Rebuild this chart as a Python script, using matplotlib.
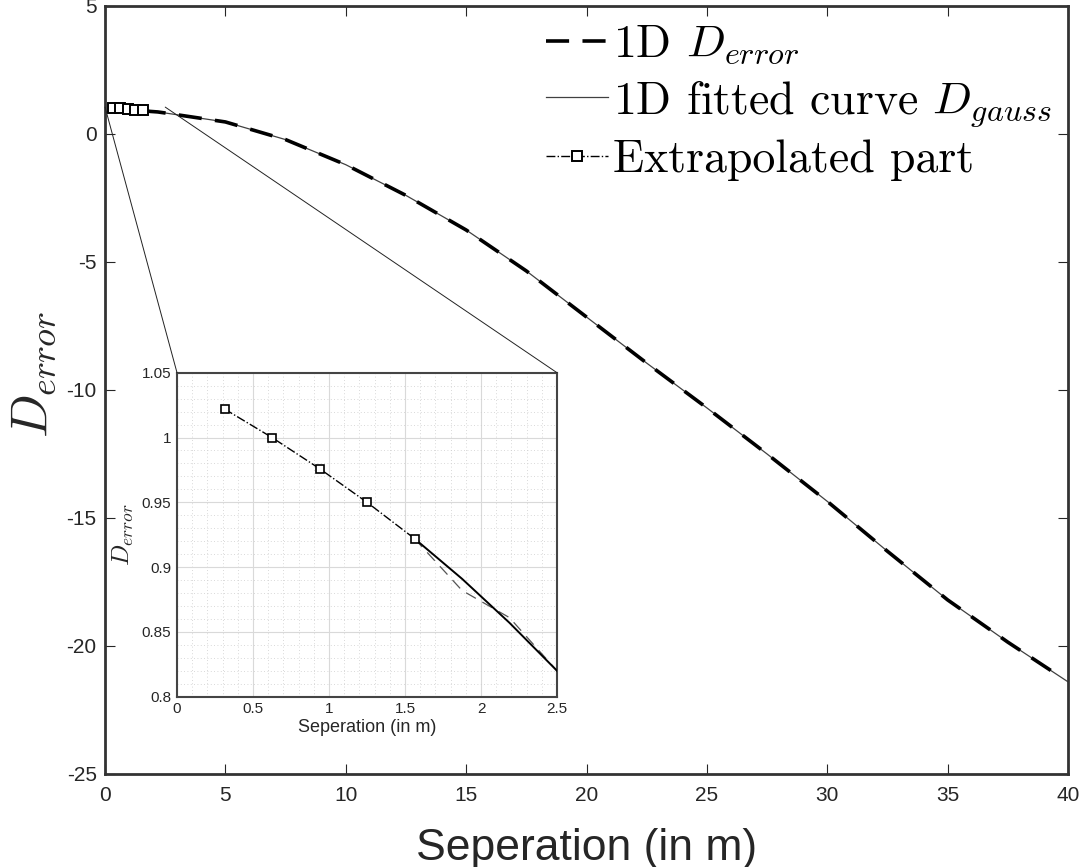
import matplotlib
matplotlib.use("Agg")
import matplotlib.pyplot as plt
from matplotlib.patches import ConnectionPatch

plt.rcParams['font.family'] = ['Liberation Sans', 'DejaVu Sans']
plt.rcParams['mathtext.fontset'] = 'cm'
plt.rcParams['axes.unicode_minus'] = False

############################### Data #########################################
# extrapolated part (grid spacing 0.3125 m)
x_extra = [0.3125, 0.625, 0.9375, 1.25, 1.5625]
d_extra = [1.022, 1.000, 0.976, 0.950, 0.922]

# measured 1D D_error
x_err = [1.5625, 1.875, 2.1875, 2.5, 5.0, 7.5, 10.0, 12.5, 15.0, 17.5, 20.0,
         22.5, 25.0, 27.5, 30.0, 32.5, 35.0, 37.5, 39.6]
d_err = [0.922, 0.882, 0.861, 0.820, 0.47, -0.22, -1.20, -2.40, -3.75, -5.35,
         -7.15, -8.95, -10.70, -12.50, -14.35, -16.30, -18.20, -19.85, -21.15]

# gaussian fit D_gauss
x_fit = [1.5625, 1.875, 2.1875, 2.5, 5.0, 7.5, 10.0, 12.5, 15.0, 17.5, 20.0,
         22.5, 25.0, 27.5, 30.0, 32.5, 35.0, 37.5, 40.0]
d_fit = [0.922, 0.891, 0.857, 0.820, 0.47, -0.22, -1.20, -2.40, -3.75, -5.35,
         -7.15, -8.95, -10.70, -12.50, -14.35, -16.30, -18.20, -19.85, -21.40]

main_xticks = [0, 5, 10, 15, 20, 25, 30, 35, 40]
main_yticks = [-25, -20, -15, -10, -5, 0, 5]
inset_xticks = [0, 0.5, 1, 1.5, 2, 2.5]
inset_yticks = [0.8, 0.85, 0.9, 0.95, 1, 1.05]
inset_yticklabels = ['0.8', '0.85', '0.9', '0.95', '1', '1.05']

############################### Main axes ####################################
fig = plt.figure(figsize=(10.92, 8.67), dpi=100)
ax = fig.add_axes([0.0962, 0.1073, 0.8818, 0.8858])

l_err, = ax.plot(x_err, d_err, color='black', lw=2.6, linestyle=(0, (6.4, 3.7)),
                 zorder=3, label=r'1D $D_{error}$')
l_fit, = ax.plot(x_fit, d_fit, color='#404040', lw=0.9, zorder=2,
                 label=r'1D fitted curve $D_{gauss}$')
l_ext, = ax.plot(x_extra, d_extra, color='black', lw=1.0, linestyle='-.',
                 marker='s', markersize=7.5, markerfacecolor='white',
                 markeredgecolor='black', markeredgewidth=1.4, zorder=4,
                 label='Extrapolated part')

ax.set_xlim(0, 40)
ax.set_ylim(-25, 5)
ax.set_xticks(main_xticks)
ax.set_yticks(main_yticks)
ax.tick_params(direction='in', length=7, width=0.8, top=True, right=True,
               labelsize=15, colors='#262626', pad=6)
ax.tick_params(axis='x', pad=9)
for sp in ax.spines.values():
    sp.set_linewidth(2.0)
    sp.set_color('#333333')

ax.set_xlabel('Seperation (in m)', fontsize=32, color='#262626', labelpad=16)
ax.set_ylabel(r'$D_{error}$', fontsize=37, color='#262626')
ax.yaxis.set_label_coords(-0.048, 0.52)

leg = ax.legend(handles=[l_err, l_fit, l_ext], loc='upper left',
                bbox_to_anchor=(0.479, 0.999), bbox_transform=fig.transFigure,
                frameon=False, handlelength=1.35, handletextpad=0.12,
                labelspacing=0.24, borderpad=0,
                prop={'family': 'cmr10', 'size': 33})

############################### Inset axes ###################################
axin = fig.add_axes([0.1621, 0.1964, 0.348, 0.3737])
axin.plot(x_err, d_err, color='#555555', lw=0.9, linestyle=(0, (9, 6)), zorder=2)
axin.plot(x_fit, d_fit, color='black', lw=1.4, zorder=3)
axin.plot(x_extra, d_extra, color='black', lw=1.0, linestyle='-.',
          marker='s', markersize=6, markerfacecolor='white',
          markeredgecolor='black', markeredgewidth=1.2, zorder=4)

axin.set_xlim(0, 2.5)
axin.set_ylim(0.8, 1.05)
axin.set_xticks(inset_xticks)
axin.set_xticklabels(['0', '0.5', '1', '1.5', '2', '2.5'])
axin.set_yticks(inset_yticks)
axin.set_yticklabels(inset_yticklabels)
axin.set_xticks([i * 0.1 for i in range(26)], minor=True)
axin.set_yticks([0.8 + i * 0.01 for i in range(26)], minor=True)
axin.grid(which='major', color='#d9d9d9', lw=0.8)
axin.grid(which='minor', color='#cccccc', lw=0.6, linestyle=(0, (1, 3)))
axin.set_axisbelow(True)
axin.tick_params(which='both', direction='in', length=0, labelsize=11,
                 colors='#262626', pad=4)
for sp in axin.spines.values():
    sp.set_linewidth(1.5)
    sp.set_color('#444444')
axin.set_xlabel('Seperation (in m)', fontsize=13, color='#262626', labelpad=2)
axin.set_ylabel(r'$D_{error}$', fontsize=18, color='#262626', labelpad=4)

# connector lines from the zoomed window to the inset corners
for xa, xb in [(0, 0), (2.5, 2.5)]:
    con = ConnectionPatch(xyA=(xa, 1.05), coordsA=ax.transData,
                          xyB=(xb, 1.05), coordsB=axin.transData,
                          color='#222222', lw=0.7)
    fig.add_artist(con)

plt.savefig('out.png', dpi=100)
